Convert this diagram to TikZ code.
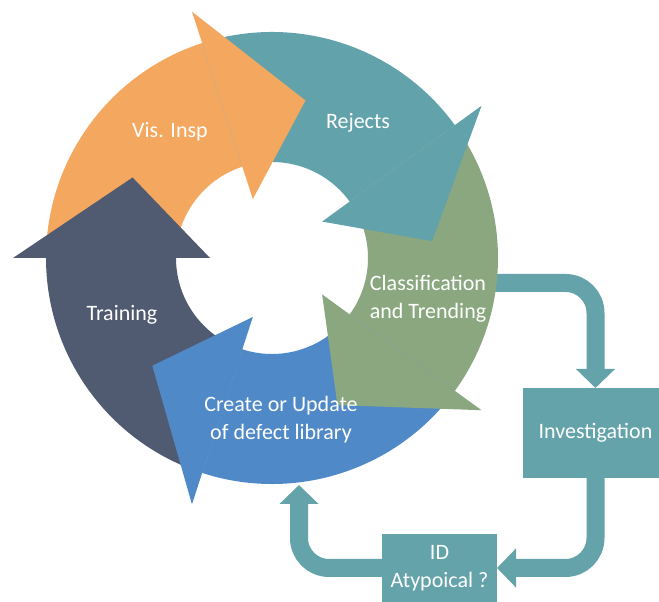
\documentclass[tikz,border=0pt]{standalone}
\usepackage{fontspec}
\setmainfont{Carlito}
\usetikzlibrary{arrows.meta}
\definecolor{visorange}{RGB}{244,167,94}
\definecolor{rejteal}{RGB}{98,162,170}
\definecolor{clsgreen}{RGB}{138,167,128}
\definecolor{libblue}{RGB}{80,137,200}
\definecolor{trnslate}{RGB}{80,91,113}
\definecolor{flowteal}{RGB}{100,163,170}
\begin{document}
\begin{tikzpicture}[x=1pt,y=1pt,
    lbl/.style={text=white,font=\fontsize{22}{28}\selectfont,align=center},
    box/.style={fill=flowteal,text=white,font=\fontsize{22}{28}\selectfont,align=center,inner sep=0pt,outer sep=0pt},
    flow/.style={draw=flowteal,line width=18pt,rounded corners=30pt,-{Triangle[length=19pt,width=38pt]}}]
  \useasboundingbox (0,0) rectangle (659,602);
  \node[box,minimum width=145pt,minimum height=90pt] (inv) at (595.5,169) {Investigation};
  \node[box,minimum width=115pt,minimum height=68pt] (atyp) at (439.5,34) {ID\\Atypoical ?};
  \coordinate (clsout) at (470,319);
  \coordinate (libin) at (299,117);
  \draw[flow] (clsout) -| (inv.north);
  \draw[flow] (inv.south) |- (atyp.east);
  \draw[flow] (atyp.west) -| (libin);
  \begin{scope}[shift={(272,344)}]
    \fill[trnslate] (252:226) arc[start angle=252,end angle=180,radius=226] -- (180:96) arc[start angle=180,end angle=252,radius=96] -- cycle;
    \fill[visorange] (180:226) arc[start angle=180,end angle=108,radius=226] -- (108:96) arc[start angle=108,end angle=180,radius=96] -- cycle;
    \fill[rejteal] (108:226) arc[start angle=108,end angle=36,radius=226] -- (36:96) arc[start angle=36,end angle=108,radius=96] -- cycle;
    \fill[clsgreen] (36:226) arc[start angle=36,end angle=-36,radius=226] -- (-36:96) arc[start angle=-36,end angle=36,radius=96] -- cycle;
    \fill[libblue] (-36:226) arc[start angle=-36,end angle=-108,radius=226] -- (-108:96) arc[start angle=-108,end angle=-36,radius=96] -- cycle;
    \fill[trnslate] (180:259) -- (150:161) -- (180:62) -- cycle;
    \fill[visorange] (108:259) -- (78:161) -- (108:62) -- cycle;
    \fill[rejteal] (36:259) -- (6:161) -- (36:62) -- cycle;
    \fill[clsgreen] (-36:259) -- (-66:161) -- (-36:62) -- cycle;
    \fill[libblue] (-108:259) -- (-138:161) -- (-108:62) -- cycle;
  \end{scope}
  \node[lbl] (vis) at (170,470) {Vis. Insp};
  \node[lbl] (rej) at (358,479) {Rejects};
  \node[lbl] (cls) at (428,303) {Classification\\and Trending};
  \node[lbl] (trn) at (122,287) {Training};
  \node[lbl] (lib) at (281,182) {Create or Update\\of defect library};
\end{tikzpicture}
\end{document}
